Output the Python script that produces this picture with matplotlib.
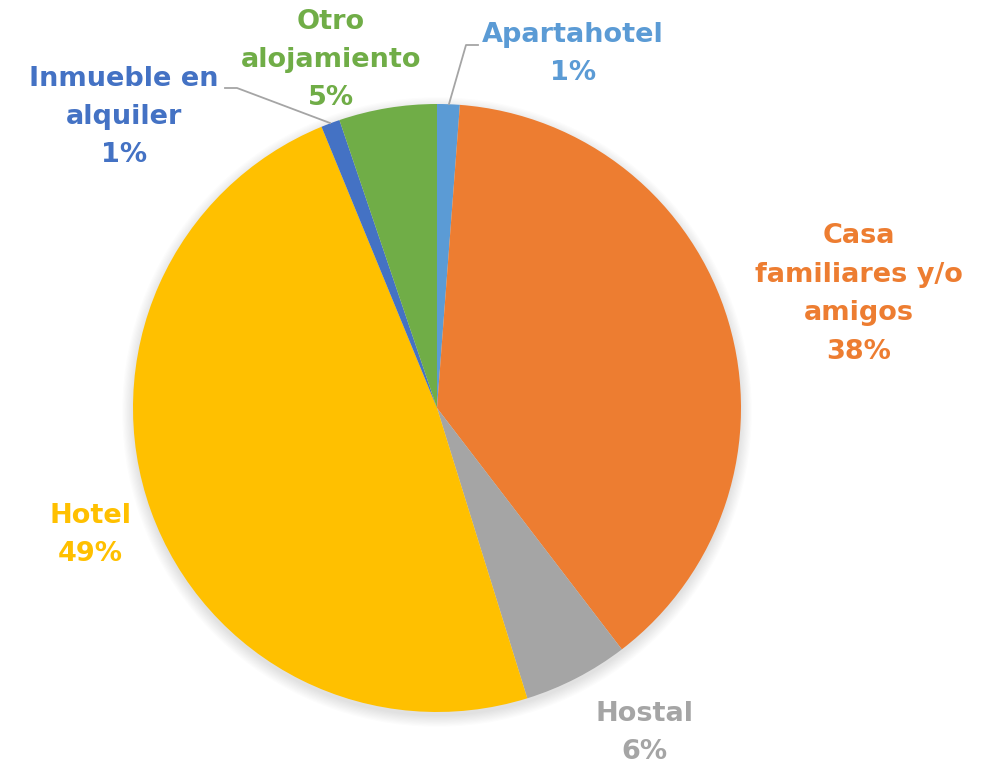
import matplotlib.pyplot as plt

labels = ['Apartahotel', 'Casa\nfamiliares y/o\namigos', 'Hostal', 'Hotel',
          'Inmueble en\nalquiler', 'Otro\nalojamiento']
values = [1.2, 38.4, 5.6, 48.6, 1.0, 5.2]
pct = ['1%', '38%', '6%', '49%', '1%', '5%']
colors = ['#5B9BD5', '#ED7D31', '#A5A5A5', '#FFC000', '#4472C4', '#70AD47']

fig = plt.figure(figsize=(9.94, 7.68), dpi=100)
ax = fig.add_axes([0, 0, 1, 1])

cx, cy, r = 437, 408, 304

# soft shadow around the pie
for i in range(10):
    ax.add_patch(plt.Circle((cx, cy + 4), r + i * 1.2, color='black',
                            alpha=0.012, lw=0, zorder=0))

# y axis is flipped below, so start at 270 to land at the top, clockwise
wedges, _ = ax.pie(values, colors=colors, startangle=270, counterclock=True,
                   center=(cx, cy), radius=r, frame=True,
                   wedgeprops=dict(linewidth=0))
ax.set_xlim(0, 994)
ax.set_ylim(768, 0)
ax.set_aspect('equal')
ax.axis('off')

# text positions (centre of each label block)
pos = [(573, 54), (859, 294), (644, 733), (90, 535), (124, 117), (331, 60)]
for lab, p, c, (x, y) in zip(labels, pct, colors, pos):
    ax.text(x, y, lab + '\n' + p, ha='center', va='center', color=c,
            fontsize=19.5, fontweight='bold', family='DejaVu Sans', linespacing=1.62)

# leader lines
ax.plot([449, 466, 478], [104, 45, 45], color='#A5A5A5', lw=1.3)
ax.plot([330, 237, 225], [123, 88, 88], color='#A5A5A5', lw=1.3)

fig.savefig('out.png', dpi=100)
